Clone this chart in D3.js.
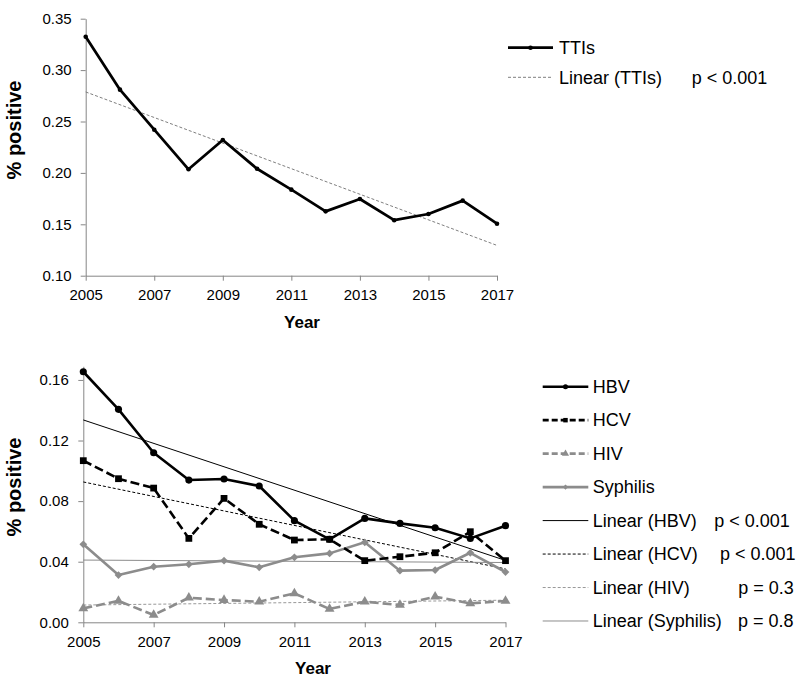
<!DOCTYPE html>
<html>
<head>
<meta charset="utf-8">
<script src="https://cdn.jsdelivr.net/npm/d3@7"></script>
<style>
  html, body { margin: 0; padding: 0; background: #fff; }
  svg { display: block; }
  text { font-family: "Liberation Sans", Arial, sans-serif; fill: #000; }
</style>
</head>
<body>
<svg id="chart" width="800" height="684"></svg>
<script>
// ---------------- DATA ----------------
const years = [2005, 2006, 2007, 2008, 2009, 2010, 2011, 2012, 2013, 2014, 2015, 2016, 2017];
const yearTicks = [2005, 2007, 2009, 2011, 2013, 2015, 2017];

const ttis     = [0.3325, 0.281, 0.242, 0.2035, 0.232, 0.204, 0.1837, 0.1626, 0.1746, 0.154, 0.160, 0.173, 0.1506];
const hbv      = [0.1654, 0.1406, 0.1119, 0.0939, 0.0946, 0.0900, 0.0671, 0.0548, 0.0686, 0.0653, 0.0624, 0.0554, 0.0638];
const hcv      = [0.1067, 0.0948, 0.0886, 0.0554, 0.0818, 0.0647, 0.0543, 0.0548, 0.0407, 0.0433, 0.0459, 0.0598, 0.0407];
const hiv      = [0.0092, 0.0141, 0.0048, 0.0162, 0.0147, 0.0136, 0.0191, 0.0088, 0.0136, 0.0114, 0.0169, 0.0125, 0.0141];
const syphilis = [0.0515, 0.0312, 0.0367, 0.0383, 0.0407, 0.0363, 0.0429, 0.0455, 0.0528, 0.0341, 0.0345, 0.0459, 0.0332];

const topYTicks = [0.10, 0.15, 0.20, 0.25, 0.30, 0.35];
const botYTicks = [0.00, 0.04, 0.08, 0.12, 0.16];

const topLegendLabels = ["TTIs", "Linear (TTIs)"];
const topPValues = ["", "p < 0.001"];
const botSeriesNames = ["HBV", "HCV", "HIV", "Syphilis"];
const botTrendLabels = ["Linear (HBV)", "Linear (HCV)", "Linear (HIV)", "Linear (Syphilis)"];
const botPValues = ["p < 0.001", "p < 0.001", "p = 0.3", "p = 0.8"];

// ---------------- HELPERS ----------------
function linReg(xs, ys) {
  const n = xs.length;
  const mx = d3.mean(xs), my = d3.mean(ys);
  let sxy = 0, sxx = 0;
  for (let i = 0; i < n; i++) { sxy += (xs[i] - mx) * (ys[i] - my); sxx += (xs[i] - mx) ** 2; }
  const b = sxy / sxx, a = my - b * mx;
  return x => a + b * x;
}

const svg = d3.select("#chart");
const AXIS = "#868686";
const GRAY = "#8c8c8c";
const FONT_TICK = 15;

function styleAxis(g) {
  g.selectAll(".domain").attr("stroke", AXIS).attr("stroke-width", 1);
  g.selectAll(".tick line").attr("stroke", AXIS).attr("stroke-width", 1);
  g.selectAll(".tick text").attr("font-size", FONT_TICK).attr("fill", "#000")
    .attr("font-family", "Liberation Sans, Arial, sans-serif");
}

const line = (x, y) => d3.line().x((d, i) => x(years[i])).y(d => y(d));

// ---------------- TOP CHART ----------------
{
  const x = d3.scaleLinear().domain([2005, 2017]).range([85.7, 497]);
  const y = d3.scaleLinear().domain([0.10, 0.35]).range([275.7, 18.7]);

  svg.append("g").attr("transform", `translate(0,${y(0.10)})`)
    .call(d3.axisBottom(x).tickValues(yearTicks).tickFormat(d3.format("d")).tickSize(5).tickSizeOuter(0).tickPadding(9))
    .call(styleAxis);
  svg.append("g").attr("transform", `translate(${x(2005)},0)`)
    .call(d3.axisLeft(y).tickValues(topYTicks).tickFormat(d3.format(".2f")).tickSize(5).tickSizeOuter(0).tickPadding(9))
    .call(styleAxis);

  const f = linReg(years, ttis);
  svg.append("line")
    .attr("x1", x(2005)).attr("x2", x(2017)).attr("y1", y(f(2005))).attr("y2", y(f(2017)))
    .attr("stroke", "#7f7f7f").attr("stroke-width", 1).attr("stroke-dasharray", "3,2");

  svg.append("path").datum(ttis).attr("d", line(x, y))
    .attr("fill", "none").attr("stroke", "#000").attr("stroke-width", 2.75).attr("stroke-linejoin", "round");
  svg.append("g").selectAll("circle").data(ttis).join("circle")
    .attr("cx", (d, i) => x(years[i])).attr("cy", d => y(d)).attr("r", 2.3).attr("fill", "#000");

  svg.append("text").attr("transform", `translate(21,130) rotate(-90)`)
    .attr("text-anchor", "middle").attr("font-size", 20).attr("font-weight", "bold").text("% positive");
  svg.append("text").attr("x", 302).attr("y", 327.5)
    .attr("text-anchor", "middle").attr("font-size", 17).attr("font-weight", "bold").text("Year");

  // legend
  const lx1 = 508, lx2 = 553, ly0 = 47.7, ldy = 29.6;
  const lg = svg.append("g");
  lg.append("line").attr("x1", lx1).attr("x2", lx2).attr("y1", ly0).attr("y2", ly0)
    .attr("stroke", "#000").attr("stroke-width", 2.75);
  lg.append("circle").attr("cx", (lx1 + lx2) / 2).attr("cy", ly0).attr("r", 2.3).attr("fill", "#000");
  lg.append("line").attr("x1", lx1).attr("x2", lx2).attr("y1", ly0 + ldy).attr("y2", ly0 + ldy)
    .attr("stroke", "#7f7f7f").attr("stroke-width", 1).attr("stroke-dasharray", "3,2");
  topLegendLabels.forEach((t, i) => {
    lg.append("text").attr("x", 559).attr("y", ly0 + i * ldy).attr("dy", "0.35em")
      .attr("font-size", 18).text(t);
  });
  topPValues.forEach((t, i) => {
    if (t) lg.append("text").attr("x", 691.7).attr("y", ly0 + i * ldy).attr("dy", "0.35em")
      .attr("font-size", 18).text(t);
  });
}

// ---------------- BOTTOM CHART ----------------
{
  const x = d3.scaleLinear().domain([2005, 2017]).range([83.3, 505.5]);
  const y = d3.scaleLinear().domain([0, 0.169]).range([622.3, 366.3]);

  svg.append("g").attr("transform", `translate(0,${y(0)})`)
    .call(d3.axisBottom(x).tickValues(yearTicks).tickFormat(d3.format("d")).tickSize(5).tickSizeOuter(0).tickPadding(9))
    .call(styleAxis);
  svg.append("g").attr("transform", `translate(${x(2005)},0)`)
    .call(d3.axisLeft(y).tickValues(botYTicks).tickFormat(d3.format(".2f")).tickSize(5).tickSizeOuter(0).tickPadding(9.5))
    .call(styleAxis);

  const seriesData = [hbv, hcv, hiv, syphilis];
  const styles = [
    { color: "#000", dash: null, sym: d3.symbolCircle, size: 40, lsize: 20, rot: 0 },
    { color: "#000", dash: "9,4", sym: d3.symbolSquare, size: 46, lsize: 20, rot: 0 },
    { color: GRAY, dash: "9,4", sym: d3.symbolTriangle, size: 42, lsize: 22, rot: 0 },
    { color: GRAY, dash: null, sym: d3.symbolSquare, size: 30, lsize: 14, rot: 45 }
  ];
  const trendStyles = [
    { color: "#000", dash: null },
    { color: "#000", dash: "3,2" },
    { color: "#999", dash: "3,2" },
    { color: GRAY, dash: null }
  ];

  // trend lines
  seriesData.forEach((s, k) => {
    const f = linReg(years, s);
    svg.append("line")
      .attr("x1", x(2005)).attr("x2", x(2017)).attr("y1", y(f(2005))).attr("y2", y(f(2017)))
      .attr("stroke", trendStyles[k].color).attr("stroke-width", 1)
      .attr("stroke-dasharray", trendStyles[k].dash);
  });

  // series drawn back to front
  [3, 2, 1, 0].forEach(k => {
    const s = seriesData[k], st = styles[k];
    svg.append("path").datum(s).attr("d", line(x, y))
      .attr("fill", "none").attr("stroke", st.color).attr("stroke-width", 2.6)
      .attr("stroke-dasharray", st.dash).attr("stroke-linejoin", "round");
    svg.append("g").selectAll("path").data(s).join("path")
      .attr("d", d3.symbol().type(st.sym).size(st.size))
      .attr("transform", (d, i) => `translate(${x(years[i])},${y(d)}) rotate(${st.rot})`)
      .attr("fill", st.color);
  });

  svg.append("text").attr("transform", `translate(21,487) rotate(-90)`)
    .attr("text-anchor", "middle").attr("font-size", 20).attr("font-weight", "bold").text("% positive");
  svg.append("text").attr("x", 313).attr("y", 674)
    .attr("text-anchor", "middle").attr("font-size", 17).attr("font-weight", "bold").text("Year");

  // legend
  const lx1 = 542.7, lx2 = 588.3, ly0 = 386.7, ldy = 33.47, tx = 592.7;
  const pvX = [714.3, 720, 738.3, 738];
  const lg = svg.append("g");
  botSeriesNames.forEach((name, k) => {
    const st = styles[k], yy = ly0 + k * ldy;
    lg.append("line").attr("x1", lx1).attr("x2", lx2).attr("y1", yy).attr("y2", yy)
      .attr("stroke", st.color).attr("stroke-width", 2.6).attr("stroke-dasharray", st.dash ? "6,3" : null);
    lg.append("path").attr("d", d3.symbol().type(st.sym).size(st.lsize))
      .attr("transform", `translate(${(lx1 + lx2) / 2},${yy}) rotate(${st.rot})`).attr("fill", st.color);
    lg.append("text").attr("x", tx).attr("y", yy).attr("dy", "0.35em").attr("font-size", 18).text(name);
  });
  botTrendLabels.forEach((name, k) => {
    const ts = trendStyles[k], yy = ly0 + (k + 4) * ldy;
    lg.append("line").attr("x1", lx1).attr("x2", lx2).attr("y1", yy).attr("y2", yy)
      .attr("stroke", ts.color).attr("stroke-width", 1).attr("stroke-dasharray", ts.dash);
    lg.append("text").attr("x", tx).attr("y", yy).attr("dy", "0.35em").attr("font-size", 18).text(name);
    lg.append("text").attr("x", pvX[k]).attr("y", yy).attr("dy", "0.35em").attr("font-size", 18).text(botPValues[k]);
  });
}
</script>
</body>
</html>
